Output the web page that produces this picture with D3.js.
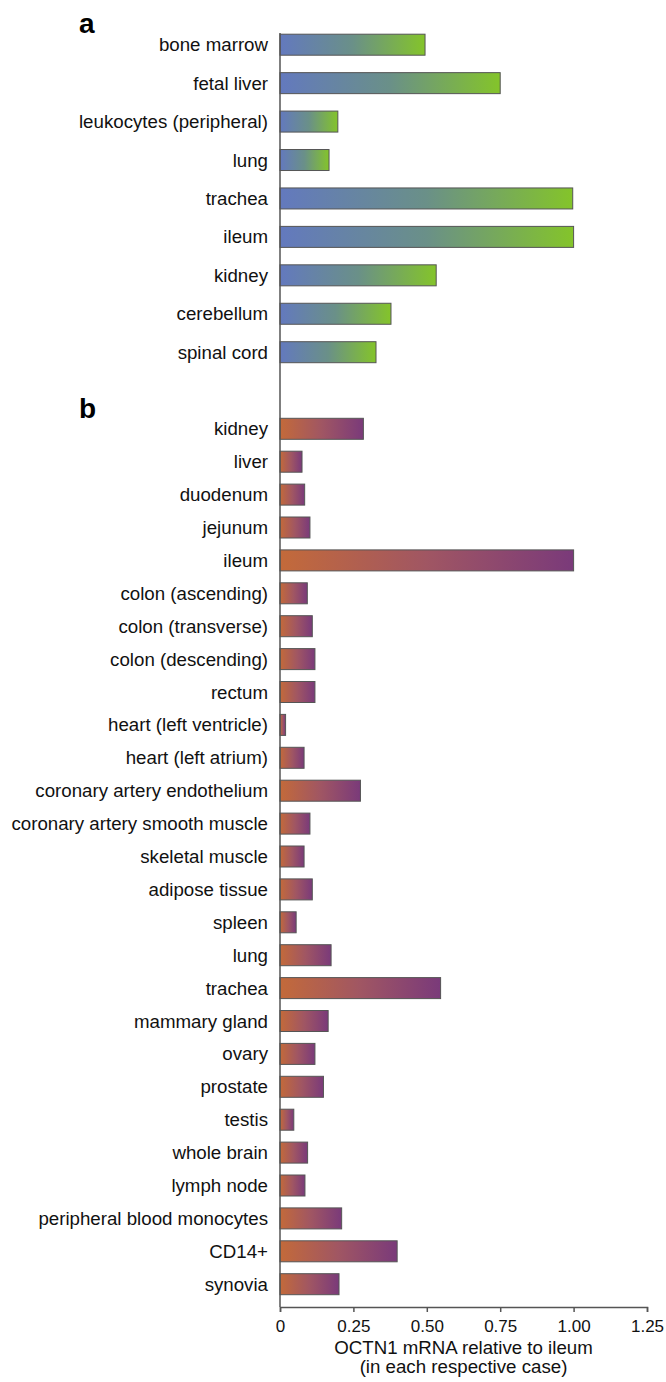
<!DOCTYPE html>
<html>
<head>
<meta charset="utf-8">
<script src="https://cdn.jsdelivr.net/npm/d3@7"></script>
<style>
  html, body { margin: 0; padding: 0; background: #fff; }
  svg { display: block; }
</style>
</head>
<body>
<div id="chart"></div>
<script>
// panel a
const tissuesA = ["bone marrow", "fetal liver", "leukocytes (peripheral)", "lung", "trachea",
  "ileum", "kidney", "cerebellum", "spinal cord"];
const valuesA = [0.494, 0.75, 0.197, 0.167, 0.997, 1.0, 0.532, 0.378, 0.327];

// panel b
const tissuesB = ["kidney", "liver", "duodenum", "jejunum", "ileum", "colon (ascending)",
  "colon (transverse)", "colon (descending)", "rectum", "heart (left ventricle)",
  "heart (left atrium)", "coronary artery endothelium", "coronary artery smooth muscle",
  "skeletal muscle", "adipose tissue", "spleen", "lung", "trachea", "mammary gland", "ovary",
  "prostate", "testis", "whole brain", "lymph node", "peripheral blood monocytes", "CD14+", "synovia"];
const valuesB = [0.284, 0.075, 0.084, 0.102, 1.0, 0.093, 0.110, 0.119, 0.119, 0.019,
  0.082, 0.274, 0.102, 0.082, 0.110, 0.055, 0.174, 0.547, 0.164, 0.119,
  0.148, 0.047, 0.094, 0.085, 0.21, 0.399, 0.201];

const ticks = [0, 0.25, 0.5, 0.75, 1.0, 1.25];
const tickLabels = ["0", "0.25", "0.50", "0.75", "1.00", "1.25"];
const xTitle = ["OCTN1 mRNA relative to ileum", "(in each respective case)"];

var width = 666, height = 1382;
var barH = 21;
var axisY = 1307;
var font = "'Liberation Sans', Arial, sans-serif";

const svg = d3.select("#chart").append("svg")
    .attr("width", width)
    .attr("height", height)
    .style("font-family", font);

const defs = svg.append("defs");
function grad(id, c0, c1, c2) {
  const g = defs.append("linearGradient").attr("id", id)
      .attr("x1", 0).attr("x2", 1).attr("y1", 0).attr("y2", 0);
  g.append("stop").attr("offset", "0%").attr("stop-color", c0);
  g.append("stop").attr("offset", "50%").attr("stop-color", c1);
  g.append("stop").attr("offset", "100%").attr("stop-color", c2);
}
grad("gA", "#6379be", "#6a9088", "#84c42a");
grad("gB", "#c36a3a", "#a05663", "#7a3a7a");

const x = d3.scaleLinear().domain([0, 1.25]).range([280, 647]);
const yA = d3.scalePoint().domain(tissuesA).range([44.7, 352.2]);
const yB = d3.scalePoint().domain(tissuesB).range([428.8, 1284.2]);

function panel(names, vals, y, fill) {
  const g = svg.append("g");
  g.selectAll("rect")
    .data(names)
    .join("rect")
      .attr("x", x(0))
      .attr("y", d => y(d) - barH / 2)
      .attr("width", (d, i) => x(vals[i]) - x(0))
      .attr("height", barH)
      .attr("fill", `url(#${fill})`)
      .attr("stroke", "#555")
      .attr("stroke-width", 1);
  g.selectAll("text")
    .data(names)
    .join("text")
      .attr("x", 268)
      .attr("y", d => y(d))
      .attr("dy", "0.35em")
      .attr("text-anchor", "end")
      .attr("font-size", 18.7)
      .attr("fill", "#111")
      .text(d => d);
}
panel(tissuesA, valuesA, yA, "gA");
panel(tissuesB, valuesB, yB, "gB");

// y axis line
svg.append("line")
    .attr("x1", x(0)).attr("x2", x(0))
    .attr("y1", 33).attr("y2", axisY)
    .attr("stroke", "#555").attr("stroke-width", 1.5);

// x axis
const xAxis = svg.append("g")
    .attr("transform", `translate(0,${axisY})`)
    .call(d3.axisBottom(x).tickValues(ticks).tickSize(5).tickPadding(8)
      .tickFormat((d, i) => tickLabels[i]));
xAxis.select(".domain").attr("stroke", "#555").attr("stroke-width", 1.5);
xAxis.selectAll(".tick line").attr("stroke", "#555").attr("stroke-width", 1.5);
xAxis.selectAll(".tick text")
    .attr("font-family", font)
    .attr("font-size", 17)
    .attr("fill", "#111");

svg.append("g").selectAll("text")
  .data(xTitle)
  .join("text")
    .attr("x", (x(0) + x(1.25)) / 2)
    .attr("y", (d, i) => 1354 + i * 19)
    .attr("text-anchor", "middle")
    .attr("font-size", 18.7)
    .attr("fill", "#111")
    .text(d => d);

// panel letters
svg.append("text").attr("x", 79).attr("y", 33)
    .attr("font-size", 28).attr("font-weight", "bold").text("a");
svg.append("text").attr("x", 79).attr("y", 418)
    .attr("font-size", 28).attr("font-weight", "bold").text("b");
</script>
</body>
</html>
